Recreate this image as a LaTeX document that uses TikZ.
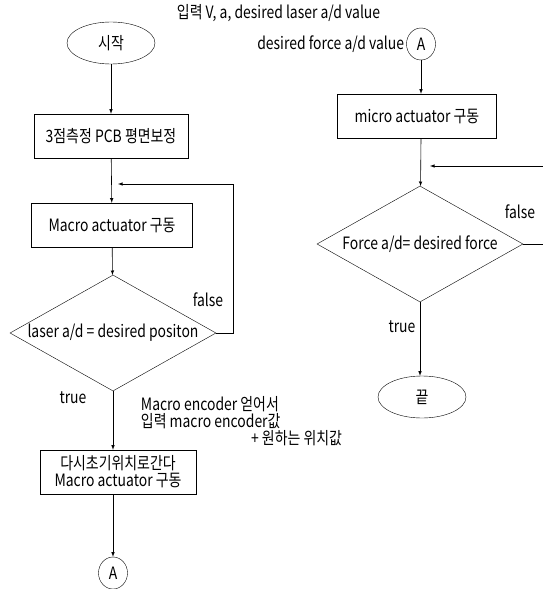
\documentclass[tikz,border=0pt]{standalone}
\usepackage{fontspec}
\setmainfont{Noto Sans CJK KR}[FakeStretch=0.82]
\usetikzlibrary{shapes.geometric}

% text of a decision box may run over its sides
\newcommand{\dectext}[1]{\makebox[167pt]{#1}}

\begin{document}
\begin{tikzpicture}[x=1pt,y=-1pt,
  every node/.style={font=\fontsize{17}{17}\selectfont},
  procbox/.style={draw, rectangle, minimum height=44pt, inner sep=1pt},
  termbox/.style={draw, ellipse, minimum width=88pt, minimum height=42pt},
  decbox/.style={draw, diamond, aspect=1.776, minimum width=206pt, minimum height=116pt, inner sep=0pt},
  conn/.style={draw, ellipse, minimum width=29pt, minimum height=32pt, inner sep=0pt},
  lbl/.style={inner sep=0.75pt},
  flow/.style={-latex, line width=0.6pt}]

\useasboundingbox (0,0) rectangle (543,589);

% left column
\node[termbox] (start) at (111,43) {시작};
\node[procbox, minimum width=154pt] (pcb) at (111,136) {3점측정 PCB 평면보정};
\node[procbox, minimum width=161pt] (macro) at (112,225) {Macro actuator 구동};
\node[decbox] (laser) at (113,333) {\dectext{laser a/d = desired positon}};
\node[procbox, minimum width=156pt, align=center] (back) at (118,472) {다시초기위치로간다\\Macro actuator 구동};
\node[conn] (aout) at (113,573) {A};

\coordinate (lback) at (233,184);
\coordinate (lin) at (118,184);

\draw[flow] (start) -- (pcb);
\draw[flow] (pcb) -- (macro);
\draw[flow] (macro) -- (laser);
\draw[flow] (laser.south) -- (laser.south |- back.north);
\draw[flow] (laser.south |- back.south) -- (aout);
\draw (laser.east) -| (lback);
\draw[flow] (lback) -- (lin);

\node[lbl] (lfalse) at (208,300) {false};
\node[lbl] (ltrue) at (73,398) {true};
\node[lbl, anchor=west] (note1) at (140,404) {Macro encoder 얻어서};
\node[lbl, anchor=west] (note2) at (140,421) {입력 macro encoder값};
\node[lbl, anchor=east] (note3) at (343,438) {+ 원하는 위치값};

% right column
\node[lbl, anchor=west] (hdr1) at (176,13) {입력 V, a, desired laser a/d value};
\node[lbl, anchor=east] (hdr2) at (405,44) {desired force a/d value};
\node[conn] (ain) at (421,44) {A};
\node[procbox, minimum width=159pt] (micro) at (417,116) {micro actuator 구동};
\node[decbox] (force) at (420,244) {\dectext{Force a/d= desired force}};
\node[termbox] (finish) at (422,397) {끝};

\coordinate (rback) at (556,166);
\coordinate (rin) at (430,166);

\draw[flow] (ain) -- (ain |- micro.north);
\draw[flow] (ain |- micro.south) -- (force);
\draw[flow] (force.south) -- (force.south |- finish.north);
\draw (force.east) -| (rback);
\draw[flow] (rback) -- (rin);

\node[lbl] (rfalse) at (520,212) {false};
\node[lbl] (rtrue) at (402,327) {true};

\end{tikzpicture}
\end{document}
